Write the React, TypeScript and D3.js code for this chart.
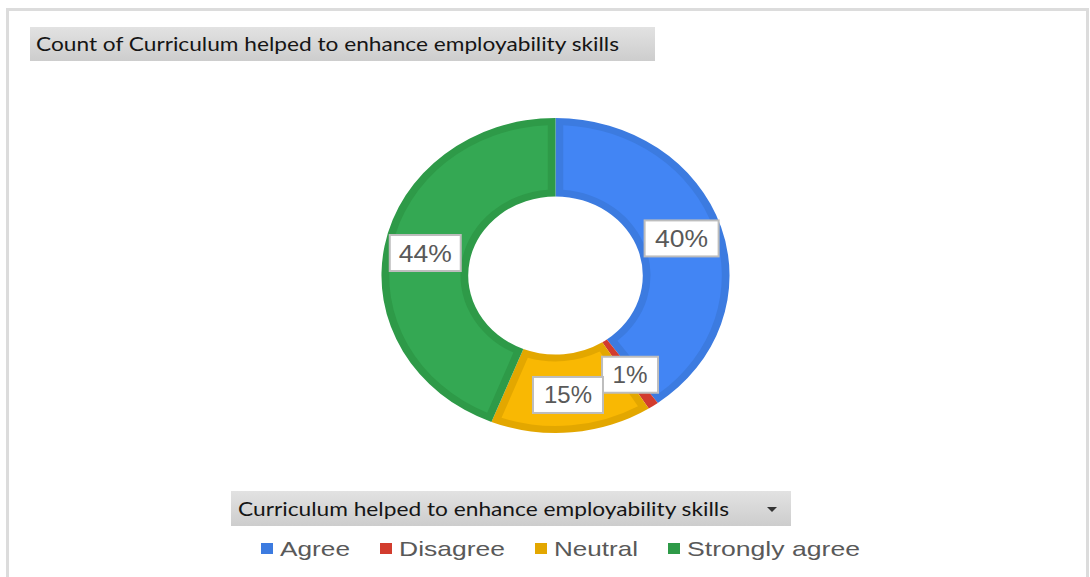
import React from 'react';
import * as d3 from 'd3';

const categories = ['Agree', 'Disagree', 'Neutral', 'Strongly agree'];
const values = [40, 1, 15, 44];
const fillColors = ['#4285f4', '#db4437', '#f9b803', '#34a853'];
const edgeColors = ['#3c7be0', '#d23c2e', '#e3a700', '#2e9a48'];
const titleText = 'Count of Curriculum helped to enhance  employability skills';
const fieldText = 'Curriculum helped to enhance  employability skills';

const W = 1090;
const H = 577;
const cx = 555.5;
const cy = 275.5;
const rOuter = 157.5;
const rInner = 79;
const sx = 1.105;
const edge = 7;

const legendX = [261, 380, 535, 668];
const legendTextW = [70, 106, 84, 173];
const labelTextW = [53, 35, 48, 53];
const labelBoxW = [74, 56, 70, 71];

export default function App() {
  const pie = d3.pie<number>().sort(null).value((d) => d)(values);
  const outerArc = d3.arc<d3.PieArcDatum<number>>().innerRadius(rInner).outerRadius(rOuter);
  const innerArc = d3
    .arc<d3.PieArcDatum<number>>()
    .innerRadius(rInner + edge)
    .outerRadius(rOuter - edge)
    .padAngle((edge * 2) / rOuter)
    .padRadius(rOuter);
  const labelArc = d3.arc<d3.PieArcDatum<number>>().innerRadius(82).outerRadius(158);
  const total = d3.sum(values);

  return (
    <svg width={W} height={H} style={{ position: 'absolute', left: 0, top: 0, background: '#fff' }}>
      <defs>
        <linearGradient id="hdr" x1="0" y1="0" x2="0" y2="1">
          <stop offset="0" stopColor="#e2e2e2" />
          <stop offset="1" stopColor="#cdcdcd" />
        </linearGradient>
      </defs>
      <rect x={7.5} y={9.5} width={1080} height={600} fill="#fff" stroke="#dcdcdc" strokeWidth={3} />

      <rect x={30} y={27} width={625} height={34} fill="url(#hdr)" />
      <text
        x={36}
        y={51}
        fontFamily="Lato, 'Open Sans', sans-serif"
        fontSize={20}
        fill="#151515"
        textLength={583}
        lengthAdjust="spacingAndGlyphs"
      >
        {titleText}
      </text>

      <g transform={`translate(${cx},${cy}) scale(${sx},1)`}>
        {pie.map((d, i) => (
          <g key={categories[i]}>
            <path d={outerArc(d) || ''} fill={edgeColors[i]} />
            <path d={innerArc(d) || ''} fill={fillColors[i]} />
          </g>
        ))}
      </g>

      {pie.map((d, i) => {
        const [lx, ly] = labelArc.centroid(d);
        const x = cx + lx * sx;
        const y = cy + ly;
        const pct = Math.round((values[i] / total) * 100) + '%';
        return (
          <g key={'lab' + i}>
            <rect
              x={x - labelBoxW[i] / 2}
              y={y - 18}
              width={labelBoxW[i]}
              height={36}
              fill="#fff"
              stroke="#bdbdbd"
              strokeWidth={2}
            />
            <text
              x={x}
              y={y + 8.5}
              textAnchor="middle"
              fontFamily="Arial, 'Liberation Sans', sans-serif"
              fontSize={23}
              fill="#595959"
              textLength={labelTextW[i]}
              lengthAdjust="spacingAndGlyphs"
            >
              {pct}
            </text>
          </g>
        );
      })}

      <rect x={231} y={491} width={560} height={35} fill="url(#hdr)" />
      <text
        x={238}
        y={516}
        fontFamily="Lato, 'Open Sans', sans-serif"
        fontSize={20}
        fill="#151515"
        textLength={491}
        lengthAdjust="spacingAndGlyphs"
      >
        {fieldText}
      </text>
      <path d="M767,507 L777,507 L772,512 Z" fill="#333" />

      {categories.map((c, i) => (
        <g key={'leg' + i}>
          <rect x={legendX[i]} y={543} width={12} height={11} fill={edgeColors[i]} />
          <text
            x={legendX[i] + 19}
            y={556}
            fontFamily="Arial, 'Liberation Sans', sans-serif"
            fontSize={21}
            fill="#595959"
            textLength={legendTextW[i]}
            lengthAdjust="spacingAndGlyphs"
          >
            {c}
          </text>
        </g>
      ))}
    </svg>
  );
}
